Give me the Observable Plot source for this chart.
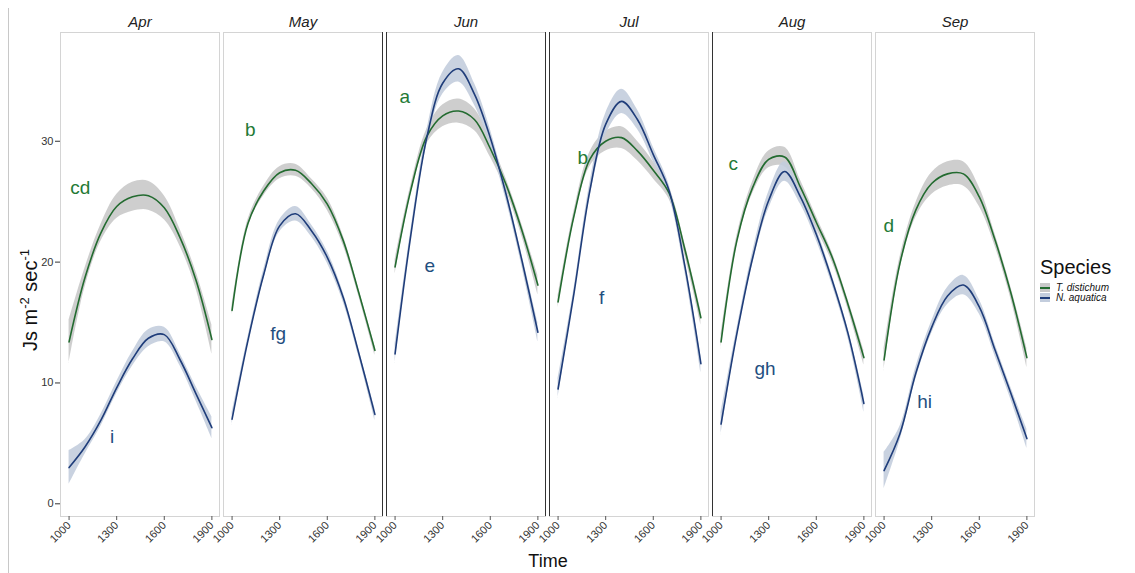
<!DOCTYPE html>
<html><head><meta charset="utf-8">
<script src="https://cdn.jsdelivr.net/npm/d3@7"></script>
<script src="https://cdn.jsdelivr.net/npm/@observablehq/plot@0.6"></script>
<style>
body{margin:0;background:#fff;font-family:"Liberation Sans",Arial,sans-serif;}
#wrap{position:relative;width:1135px;height:573px;overflow:hidden;background:#fff}
#chart{position:absolute;left:0;top:0}
.ov{position:absolute;white-space:nowrap;color:#111}
#ylab{left:30px;top:300px;font-size:20px;transform:translate(-50%,-50%) rotate(-90deg);}
#ylab sup{font-size:13px;vertical-align:0;position:relative;top:-8px}
#xlab{left:548px;top:561px;font-size:18px;transform:translate(-50%,-50%);}
#vline{position:absolute;left:8px;top:8px;width:1px;height:565px;background:#c8c8c8}
#legend{left:1040px;top:256px;}
#legend .t{font-size:20px;margin-bottom:3px}
#legend .row{display:flex;align-items:center;height:10px;font-size:10px;font-style:italic}
#legend .key{width:10px;height:9px;position:relative;margin-right:6px}
#legend .key i{position:absolute;left:0;right:0;top:4px;height:2px}
</style></head><body>
<div id="wrap">
<div id="vline"></div>
<div id="chart"></div>
<div class="ov" id="ylab">Js m<sup>-2</sup> sec<sup>-1</sup></div>
<div class="ov" id="xlab">Time</div>
<div class="ov" id="legend"></div>
</div>
<script>
const months = ["Apr","May","Jun","Jul","Aug","Sep"];
const species = ["T. distichum","N. aquatica"];
const hours = [1000,1100,1200,1300,1400,1500,1600,1700,1800,1900];
const xTicks = [1000,1300,1600,1900];
const yTicks = [0,10,20,30];

// T. distichum (green) smoothed values per month
const tdApr = [13.4,18.7,22.4,24.6,25.4,25.5,24.5,22.0,18.5,13.6];
const tdMay = [16.0,23.2,25.9,27.4,27.6,26.5,24.8,21.8,17.4,12.7];
const tdJun = [19.6,26.0,30.4,32.1,32.5,31.8,29.4,26.4,22.6,18.1];
const tdJul = [16.7,23.8,28.5,30.0,30.3,29.2,27.6,25.7,21.0,15.4];
const tdAug = [13.4,21.8,26.2,28.5,28.7,26.2,23.3,20.4,16.5,12.1];
const tdSep = [11.9,19.9,24.3,26.5,27.3,27.3,25.4,21.8,17.4,12.1];
// N. aquatica (blue)
const naApr = [3.0,4.7,6.9,9.6,12.0,13.7,14.0,11.9,9.1,6.3];
const naMay = [7.0,13.5,19.0,23.0,24.0,22.6,20.4,17.1,12.4,7.4];
const naJun = [12.4,22.3,30.3,34.8,36.0,33.9,30.3,25.6,20.1,14.2];
const naJul = [9.5,17.4,25.9,31.4,33.3,31.8,28.9,25.9,19.6,11.6];
const naAug = [6.6,14.1,20.4,25.1,27.5,25.4,22.3,18.5,14.1,8.3];
const naSep = [2.75,5.8,10.8,14.6,17.2,18.1,16.3,12.7,9.1,5.4];
// confidence band half-widths
const tdAprCi = [1.8,0.8,0.7,1.0,1.2,1.2,1.0,0.7,0.7,1.2];
const tdMayCi = [0.4,0.3,0.4,0.5,0.5,0.4,0.5,0.4,0.3,0.4];
const tdJunCi = [0.6,0.4,0.6,0.9,1.0,0.9,0.7,0.5,0.5,0.8];
const tdJulCi = [0.5,0.4,0.6,0.8,0.9,0.8,0.7,0.5,0.5,0.6];
const tdAugCi = [0.6,0.4,0.5,0.7,0.8,0.6,0.5,0.4,0.4,0.6];
const tdSepCi = [0.9,0.5,0.6,0.9,1.0,1.0,0.8,0.5,0.5,0.8];
const naAprCi = [1.4,0.6,0.5,0.5,0.6,0.7,0.6,0.5,0.6,0.9];
const naMayCi = [0.5,0.3,0.4,0.5,0.6,0.5,0.5,0.4,0.3,0.5];
const naJunCi = [0.8,0.4,0.6,0.9,1.1,0.9,0.7,0.5,0.5,0.8];
const naJulCi = [0.8,0.4,0.6,0.9,1.0,0.8,0.6,0.5,0.5,0.7];
const naAugCi = [0.9,0.4,0.5,0.7,0.8,0.6,0.5,0.4,0.4,0.7];
const naSepCi = [1.5,0.6,0.5,0.5,0.7,0.8,0.6,0.5,0.5,0.8];

// significance letters: [label, hour, value]
const tdLetters = [["cd",1071,26.1],["b",1115,30.9],["a",1061,33.7],["b",1155,28.6],["c",1077,28.1],["d",1029,23.0]];
const naLetters = [["i",1272,5.5],["fg",1291,14.1],["e",1218,19.7],["f",1274,17.0],["gh",1277,11.2],["hi",1256,8.4]];

const green = "#236b30", blue = "#1f3d7a";
const greenText = "#237a35", blueText = "#1f4f7f";
const greenBand = "#c9c9c9", blueBand = "#c3cddd";

const tdVals = [tdApr,tdMay,tdJun,tdJul,tdAug,tdSep];
const naVals = [naApr,naMay,naJun,naJul,naAug,naSep];
const tdCis = [tdAprCi,tdMayCi,tdJunCi,tdJulCi,tdAugCi,tdSepCi];
const naCis = [naAprCi,naMayCi,naJunCi,naJulCi,naAugCi,naSepCi];

function build(vals, cis, sp){
  const out = [];
  months.forEach((m, mi) => hours.forEach((h, i) => {
    out.push({month:m, species:sp, hour:h, value:vals[mi][i], lo:vals[mi][i]-cis[mi][i], hi:vals[mi][i]+cis[mi][i]});
  }));
  return out;
}
const tdRows = build(tdVals, tdCis, species[0]);
const naRows = build(naVals, naCis, species[1]);
const tdLab = tdLetters.map((d,i)=>({month:months[i], label:d[0], hour:d[1], value:d[2]}));
const naLab = naLetters.map((d,i)=>({month:months[i], label:d[0], hour:d[1], value:d[2]}));

const xDomain = [946, 1948];
const edges = [
  {month:"May", x:xDomain[1]},
  {month:"Jun", x:xDomain[0]},
  {month:"Jun", x:xDomain[1]},
  {month:"Jul", x:xDomain[0]},
  {month:"Aug", x:xDomain[0]}
];

const chart = Plot.plot({
  width: 1040, height: 573,
  marginLeft: 58, marginRight: 4, marginTop: 32, marginBottom: 57,
  style: {fontFamily: "'Liberation Sans', Arial, sans-serif", color: "#444", background: "transparent"},
  fx: {domain: months, paddingInner: 0.024, paddingOuter: 0, label: null},
  x: {domain: xDomain},
  y: {domain: [-1.05, 39.0]},
  marks: [
    Plot.frame({stroke: "#d4d4d4"}),
    Plot.ruleX(edges, {x: "x", fx: "month", stroke: "#333", strokeWidth: 1}),
    Plot.areaY(tdRows, {x: "hour", y1: "lo", y2: "hi", fx: "month", fill: greenBand, fillOpacity: 0.9, curve: "catmull-rom"}),
    Plot.areaY(naRows, {x: "hour", y1: "lo", y2: "hi", fx: "month", fill: blueBand, fillOpacity: 0.9, curve: "catmull-rom"}),
    Plot.line(tdRows, {x: "hour", y: "value", fx: "month", stroke: green, strokeWidth: 1.6, curve: "catmull-rom"}),
    Plot.line(naRows, {x: "hour", y: "value", fx: "month", stroke: blue, strokeWidth: 1.6, curve: "catmull-rom"}),
    Plot.text(tdLab, {x: "hour", y: "value", fx: "month", text: "label", fill: greenText, fontSize: 19}),
    Plot.text(naLab, {x: "hour", y: "value", fx: "month", text: "label", fill: blueText, fontSize: 19}),
    Plot.axisY({ticks: yTicks, tickSize: 5, tickPadding: 2, fontSize: 11, label: null, stroke: "#333", fill: "#333"}),
    Plot.axisX({ticks: xTicks, tickFormat: d => String(d), tickRotate: -45, tickSize: 4, tickPadding: 3, fontSize: 11, label: null, stroke: "#555", fill: "#333"}),
    Plot.axisFx({anchor: "top", tickSize: 0, tickPadding: 6, fontSize: 15, fontStyle: "italic", label: null, fill: "#222"})
  ]
});
document.getElementById("chart").appendChild(chart);

const leg = document.getElementById("legend");
leg.innerHTML = '<div class="t">Species</div>' +
  '<div class="row"><span class="key" style="background:' + greenBand + '"><i style="background:' + green + '"></i></span>' + species[0] + '</div>' +
  '<div class="row"><span class="key" style="background:' + blueBand + '"><i style="background:' + blue + '"></i></span>' + species[1] + '</div>';
</script>
</body></html>
